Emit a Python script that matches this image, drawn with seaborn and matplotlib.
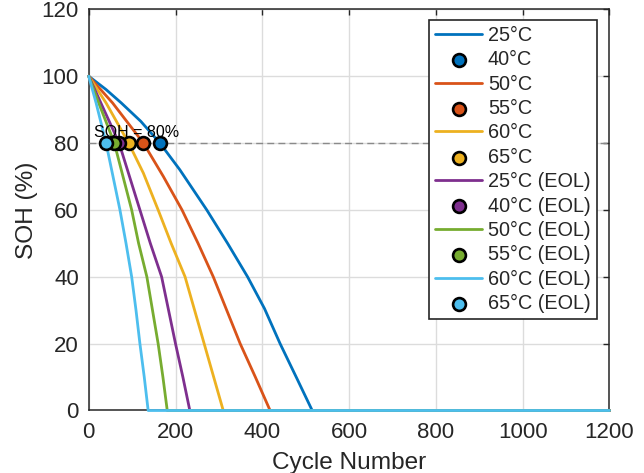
import matplotlib
matplotlib.use("Agg")
import matplotlib.pyplot as plt
import pandas as pd
import seaborn as sns

# SOH trajectories (cycle number, SOH %) for each test condition
cyc_25 = [0, 40, 75, 120, 164, 210, 272, 320, 366, 405, 441, 480, 515, 1200]
soh_25 = [100, 96, 92, 86.5, 80, 72, 60, 50, 40, 30.5, 20, 9.5, 0, 0]
cyc_50 = [0, 55, 126, 172, 215, 252, 287, 318, 349, 384, 418, 1200]
soh_50 = [100, 92, 80, 70, 60, 50, 40, 30, 20, 10, 0, 0]
cyc_60 = [0, 40, 92, 126, 160, 190, 222, 244, 266, 288, 310, 1200]
soh_60 = [100, 92, 80, 71, 60, 50, 40, 30, 20, 10, 0, 0]
cyc_25e = [0, 28, 70, 94, 118, 142, 168, 184, 200, 217, 233, 1200]
soh_25e = [100, 92, 80, 70, 60, 50, 40, 30, 20, 10, 0, 0]
cyc_50e = [0, 23, 59, 79, 99, 115, 134, 147, 160, 171, 181, 1200]
soh_50e = [100, 92, 80, 70, 60, 50, 40, 30, 20, 10, 0, 0]
cyc_60e = [0, 17, 40, 56, 72, 86, 99, 109, 118, 128, 137, 1200]
soh_60e = [100, 92, 80, 70, 60, 50, 40, 30, 20, 10, 0, 0]

# cycle at which each curve crosses the SOH threshold
eol_threshold = 80
eol_cycles = [164, 126, 92, 70, 59, 40]

legend_labels = ['25°C', '40°C', '50°C', '55°C', '60°C', '65°C',
                 '25°C (EOL)', '40°C (EOL)', '50°C (EOL)', '55°C (EOL)',
                 '60°C (EOL)', '65°C (EOL)']

colors = ['#0072BD', '#D95319', '#EDB120', '#7E2F8E', '#77AC30', '#4DBEEE']
curves = [(cyc_25, soh_25), (cyc_50, soh_50), (cyc_60, soh_60),
          (cyc_25e, soh_25e), (cyc_50e, soh_50e), (cyc_60e, soh_60e)]

sns.set_style("white")
plt.rcParams['font.family'] = ['Liberation Sans', 'DejaVu Sans']
ink = '#262626'

fig = plt.figure(figsize=(6.44, 4.73), dpi=100)
ax = fig.add_axes([88.7 / 644, 1 - 410.5 / 473, (609.5 - 88.7) / 644, (410.5 - 9.3) / 473])

line_handles = []
for (cx, sy), col in zip(curves, colors):
    df = pd.DataFrame({'cycle': cx, 'soh': sy})
    sns.lineplot(data=df, x='cycle', y='soh', color=col, lw=2.0, sort=False,
                 estimator=None, ax=ax, zorder=3)
    ln = ax.lines[-1]
    ln.set_clip_on(False)
    line_handles.append(ln)

ax.axhline(eol_threshold, color='#8a8a8a', lw=1.0, ls=(0, (5, 3)), zorder=2.6)

marker_handles = []
for cyc, col in zip(eol_cycles, colors):
    sns.scatterplot(x=[cyc], y=[eol_threshold], color=col, s=85, edgecolor='black',
                    linewidth=1.9, ax=ax, zorder=4, legend=False)
    coll = ax.collections[-1]
    coll.set_clip_on(False)
    marker_handles.append(coll)

ax.text(13, 83.2, 'SOH = 80%', fontsize=11.5, color='black', va='center', ha='left', zorder=5)

ax.set_xlim(0, 1200)
ax.set_ylim(0, 120)
ax.set_xticks(range(0, 1201, 200))
ax.set_yticks(range(0, 121, 20))
ax.grid(True, color='#dcdcdc', lw=1.0)
ax.set_axisbelow(True)
for sp in ax.spines.values():
    sp.set_visible(True)
    sp.set_color(ink)
    sp.set_linewidth(1.1)
ax.tick_params(direction='in', length=4, width=1.0, color=ink, top=True, right=True,
               labelsize=16, labelcolor=ink)
ax.tick_params(axis='x', pad=8)
ax.tick_params(axis='y', pad=7)
ax.set_xlabel('Cycle Number', fontsize=17.6, color=ink, labelpad=6.5)
ax.set_ylabel('SOH (%)', fontsize=17.6, color=ink, labelpad=3)

handles = []
for ln, mk in zip(line_handles, marker_handles):
    handles.extend([ln, mk])
leg = ax.legend(handles, legend_labels, loc='upper right',
                bbox_to_anchor=((596.7 - 88.7) / 520.8, (410.5 - 20) / 401.2),
                borderaxespad=0, fontsize=14.3, frameon=True, fancybox=False,
                framealpha=1, edgecolor=ink, handlelength=2.35, handletextpad=0.3,
                labelspacing=0.27, borderpad=0.3, scatterpoints=1)
leg.get_frame().set_linewidth(1.2)
leg.set_zorder(10)

fig.savefig('out.png', dpi=100)
